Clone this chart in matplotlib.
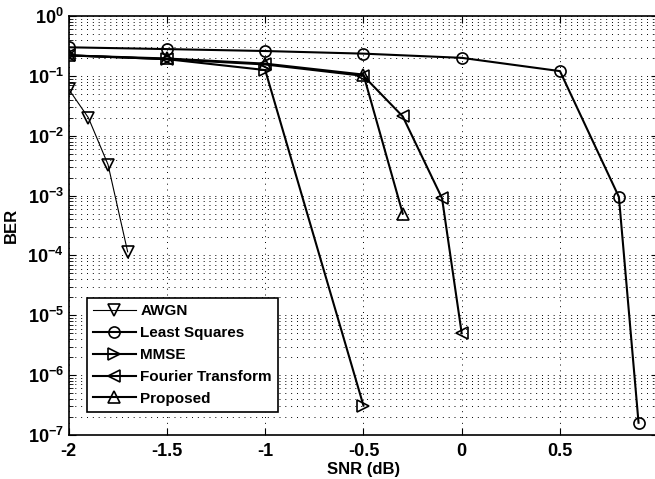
import matplotlib.pyplot as plt
from matplotlib.ticker import LogLocator, FixedLocator

plt.rcParams["font.family"] = ["Liberation Sans", "DejaVu Sans"]
plt.rcParams["font.weight"] = "bold"
plt.rcParams["mathtext.fontset"] = "custom"
plt.rcParams["mathtext.rm"] = "Liberation Sans:bold"
plt.rcParams["mathtext.bf"] = "Liberation Sans:bold"

awgn_x = [-2.0, -1.9, -1.8, -1.7]
awgn_y = [0.06, 0.02, 0.0033, 1.15e-4]

ls_x = [-2.0, -1.5, -1.0, -0.5, 0.0, 0.5, 0.8, 0.9]
ls_y = [0.30, 0.28, 0.26, 0.235, 0.20, 0.12, 9.5e-4, 1.6e-7]

mmse_x = [-2.0, -1.5, -1.0, -0.5]
mmse_y = [0.22, 0.19, 0.125, 3.1e-7]

ft_x = [-2.0, -1.5, -1.0, -0.5, -0.3, -0.1, 0.0]
ft_y = [0.22, 0.19, 0.155, 0.10, 0.021, 9.0e-4, 5.0e-6]

prop_x = [-2.0, -1.5, -1.0, -0.5, -0.3]
prop_y = [0.22, 0.195, 0.16, 0.105, 5.0e-4]

xticks = [-2, -1.5, -1, -0.5, 0, 0.5]
xticklabels = ["-2", "-1.5", "-1", "-0.5", "0", "0.5"]

fig = plt.figure(figsize=(6.55, 4.79), dpi=100)
ax = fig.add_axes([68.7 / 655, 44 / 479, 589.5 / 655, 419 / 479])

mk = dict(color="black", markerfacecolor="none", markeredgecolor="black",
          markersize=8, markeredgewidth=1.2)
ax.plot(awgn_x, awgn_y, marker="v", linewidth=0.8, label="AWGN", **mk)
ax.plot(ls_x, ls_y, marker="o", linewidth=1.5, label="Least Squares", **mk)
ax.plot(mmse_x, mmse_y, marker=">", linewidth=1.5, label="MMSE", **mk)
ax.plot(ft_x, ft_y, marker="<", linewidth=1.5, label="Fourier Transform", **mk)
ax.plot(prop_x, prop_y, marker="^", linewidth=1.5, label="Proposed", **mk)

ax.set_yscale("log")
ax.set_ylim(1e-7, 1)
ax.set_xlim(-2, 1)
ax.xaxis.set_major_locator(FixedLocator(xticks))
ax.set_xticklabels(xticklabels)
ax.yaxis.set_minor_locator(LogLocator(base=10, subs=range(2, 10), numticks=20))
ax.set_yticks([10.0 ** k for k in range(-7, 1)])
ax.set_yticklabels([r"$10^{%d}$" % k for k in range(-7, 1)])

ax.grid(True, which="major", axis="both", color="black", linestyle=(0, (1, 5)), linewidth=0.7)
ax.grid(True, which="minor", axis="y", color="black", linestyle=(0, (1, 5)), linewidth=0.7)

ax.tick_params(which="both", direction="in", top=True, right=True, labelsize=13)
ax.tick_params(which="major", length=5)
ax.tick_params(which="minor", length=3)
ax.tick_params(axis="x", pad=6)
for s in ax.spines.values():
    s.set_linewidth(1.2)

ax.set_xlabel("SNR (dB)", fontsize=12, fontweight="bold", labelpad=1)
ax.set_ylabel("BER", fontsize=12, fontweight="bold", labelpad=6)

leg = ax.legend(loc="lower left", bbox_to_anchor=(0.031, 0.055), fontsize=11,
                handlelength=2.8, handletextpad=0.3, borderpad=0.4,
                labelspacing=0.52, fancybox=False, framealpha=1,
                edgecolor="black", borderaxespad=0)
leg.get_frame().set_linewidth(1.2)

fig.savefig("out.png", dpi=100)
